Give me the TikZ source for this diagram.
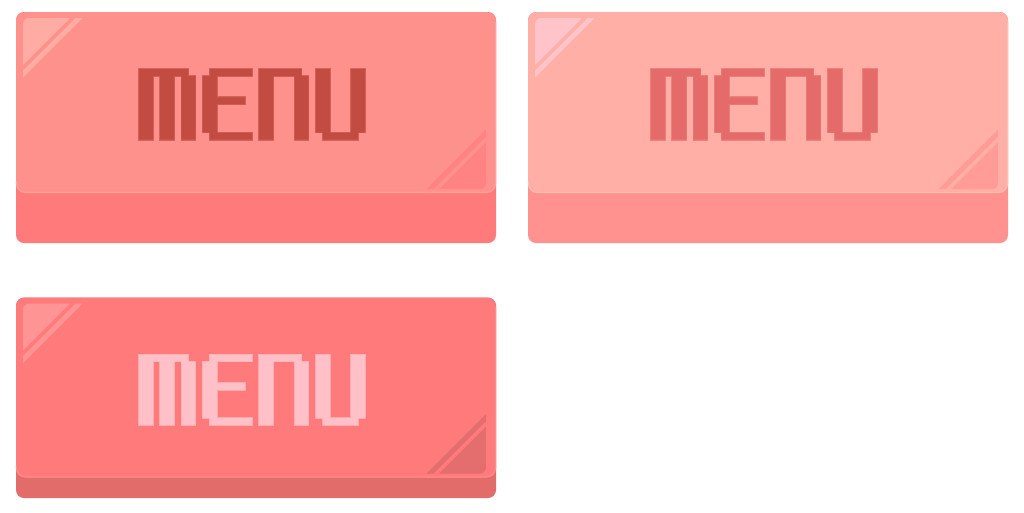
\documentclass[tikz,border=0pt]{standalone}
\usepackage{xcolor}
\definecolor{Aface}{HTML}{FF918C}
\definecolor{Abase}{HTML}{FF7B7B}
\definecolor{Aletter}{HTML}{C24C41}
\definecolor{Aledge}{HTML}{D6625A}
\definecolor{Atl}{HTML}{FFADA4}
\definecolor{Abr}{HTML}{FF8383}
\definecolor{Aedge}{HTML}{FFA19C}
\definecolor{Bface}{HTML}{FFAFA5}
\definecolor{Bbase}{HTML}{FF928E}
\definecolor{Bletter}{HTML}{E46B69}
\definecolor{Bledge}{HTML}{EE807B}
\definecolor{Btl}{HTML}{FFC3CA}
\definecolor{Bbr}{HTML}{FF9C97}
\definecolor{Bedge}{HTML}{FFBCB3}
\definecolor{Cface}{HTML}{FF7B7B}
\definecolor{Cbase}{HTML}{E26C6A}
\definecolor{Cletter}{HTML}{FFC0C8}
\definecolor{Cledge}{HTML}{FFA9AE}
\definecolor{Ctl}{HTML}{FF9494}
\definecolor{Cbr}{HTML}{E46D6D}
\definecolor{Cedge}{HTML}{FF8A88}
\newcommand\menuletters[1]{%
  \path[#1]
    (0,0) rectangle (7,1) (0,1) rectangle (2,10) (3,1) rectangle (5,10) (6,1) rectangle (8,10)
    (10,0) rectangle (16,1) (9,1) rectangle (11,9) (10,9) rectangle (16,10) (11,4) rectangle (15,5)
    (17,0) rectangle (23,1) (17,1) rectangle (19,10) (22,1) rectangle (24,10)
    (25,0) rectangle (27,9) (30,0) rectangle (32,9) (26,9) rectangle (31,10);}
% x0, y0, face height, total height, colour prefix
\newcommand\drawbtn[5]{%
  \fill[#5base, rounded corners=8] (#1,#2) rectangle ++(480,#4);
  \fill[#5face, rounded corners=9] (#1,#2) rectangle ++(480,#3);
  \draw[#5edge, line width=1.1, rounded corners=9] ({#1+479.5},{#2+10}) -- ({#1+479.5},{#2+#3-0.5}) -- ({#1+0.5},{#2+#3-0.5}) -- ({#1+0.5},{#2+#3-12});
  \begin{scope}
    \clip[rounded corners=6] ({#1+7},{#2+6}) rectangle ({#1+470},{#2+#3-4});
    \fill[#5tl] ({#1+7},{#2+6}) -- ++(47,0) -- ({#1+7},{#2+53}) -- cycle;
    \fill[#5tl] ({#1+7+52.5},{#2+6}) -- ++(7,0) -- ({#1+7},{#2+6+59.5}) -- ++(0,-7) -- cycle;
    \fill[#5br] ({#1+470},{#2+#3-4}) -- ++(-47,0) -- ({#1+470},{#2+#3-4-47}) -- cycle;
    \fill[#5br] ({#1+470-52.5},{#2+#3-4}) -- ++(-7,0) -- ({#1+470},{#2+#3-4-59.5}) -- ++(0,7) -- cycle;
  \end{scope}
  \begin{scope}[shift={({#1+123},{#2+57})}, x=7.07pt, y=-7.07pt]
    \menuletters{draw=#5ledge, line width=1.6pt}
    \menuletters{fill=#5letter}
  \end{scope}}
\begin{document}
\begin{tikzpicture}[x=1pt, y=-1pt]
  \useasboundingbox[fill=white] (0,0) rectangle (1024,512);
  \drawbtn{16}{12}{181}{231}{A}
  \drawbtn{528}{12}{181}{231}{B}
  \drawbtn{16}{297.5}{180}{200.5}{C}
\end{tikzpicture}
\end{document}
